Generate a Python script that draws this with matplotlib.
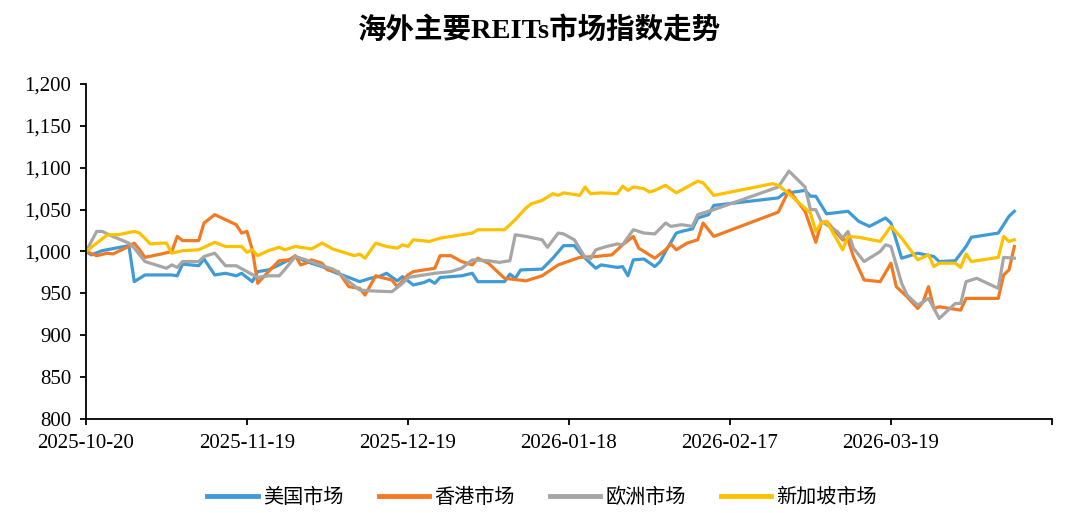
import matplotlib
matplotlib.use("Agg")
import matplotlib.pyplot as plt
import pandas as pd

# ---------------- data ----------------
us_dates = ["2025-10-20", "2025-10-21", "2025-10-23", "2025-10-28", "2025-10-29", "2025-10-31",
            "2025-11-05", "2025-11-06", "2025-11-07", "2025-11-10", "2025-11-11", "2025-11-13",
            "2025-11-15", "2025-11-17", "2025-11-18", "2025-11-20", "2025-11-21", "2025-11-23",
            "2025-11-25", "2025-11-28", "2025-11-30", "2025-12-03", "2025-12-05", "2025-12-08",
            "2025-12-10", "2025-12-12", "2025-12-14", "2025-12-15", "2025-12-17", "2025-12-18",
            "2025-12-20", "2025-12-22", "2025-12-23", "2025-12-24", "2025-12-25", "2025-12-29",
            "2025-12-31", "2026-01-01", "2026-01-06", "2026-01-07", "2026-01-08", "2026-01-09",
            "2026-01-13", "2026-01-15", "2026-01-17", "2026-01-19", "2026-01-21", "2026-01-23",
            "2026-01-24", "2026-01-27", "2026-01-28", "2026-01-29", "2026-01-30", "2026-02-01",
            "2026-02-03", "2026-02-04", "2026-02-05", "2026-02-07", "2026-02-08", "2026-02-10",
            "2026-02-11", "2026-02-13", "2026-02-14", "2026-02-26", "2026-02-27", "2026-03-03",
            "2026-03-04", "2026-03-05", "2026-03-07", "2026-03-11", "2026-03-13", "2026-03-15",
            "2026-03-18", "2026-03-19", "2026-03-21", "2026-03-24", "2026-03-27", "2026-03-28",
            "2026-03-31", "2026-04-02", "2026-04-03", "2026-04-08", "2026-04-10", "2026-04-11"]
us_vals = [1000, 996, 1001, 1007, 964, 972,
           972, 971, 985, 983, 991, 972,
           974, 971, 974, 964, 976, 978,
           984, 994, 988, 982, 976, 969,
           964, 968, 971, 974, 965, 970,
           960, 963, 966, 962, 969, 971,
           974, 964, 964, 973, 968, 978,
           979, 992, 1007, 1007, 992, 980,
           984, 981, 982, 971, 990, 991,
           982, 988, 1000, 1022, 1024, 1027,
           1040, 1044, 1055, 1064, 1069, 1073,
           1066, 1066, 1045, 1048, 1036, 1030,
           1040, 1034, 992, 998, 994, 988,
           989, 1006, 1017, 1022, 1042, 1048]

hk_dates = ["2025-10-20", "2025-10-22", "2025-10-24", "2025-10-25", "2025-10-28", "2025-10-29",
            "2025-10-30", "2025-10-31", "2025-11-03", "2025-11-05", "2025-11-06", "2025-11-07",
            "2025-11-10", "2025-11-11", "2025-11-13", "2025-11-15", "2025-11-17", "2025-11-18",
            "2025-11-19", "2025-11-20", "2025-11-21", "2025-11-23", "2025-11-25", "2025-11-27",
            "2025-11-28", "2025-11-29", "2025-11-30", "2025-12-01", "2025-12-03", "2025-12-04",
            "2025-12-06", "2025-12-08", "2025-12-10", "2025-12-11", "2025-12-13", "2025-12-14",
            "2025-12-16", "2025-12-17", "2025-12-19", "2025-12-20", "2025-12-24", "2025-12-25",
            "2025-12-27", "2025-12-29", "2025-12-31", "2026-01-01", "2026-01-03", "2026-01-06",
            "2026-01-10", "2026-01-13", "2026-01-16", "2026-01-20", "2026-01-23", "2026-01-26",
            "2026-01-28", "2026-01-30", "2026-01-31", "2026-02-03", "2026-02-05", "2026-02-06",
            "2026-02-07", "2026-02-09", "2026-02-11", "2026-02-12", "2026-02-14", "2026-02-26",
            "2026-02-28", "2026-03-03", "2026-03-05", "2026-03-06", "2026-03-07", "2026-03-10",
            "2026-03-11", "2026-03-12", "2026-03-14", "2026-03-17", "2026-03-19", "2026-03-20",
            "2026-03-22", "2026-03-24", "2026-03-25", "2026-03-26", "2026-03-27", "2026-03-28",
            "2026-04-01", "2026-04-02", "2026-04-08", "2026-04-09", "2026-04-10", "2026-04-11"]
hk_vals = [1000, 995, 998, 997, 1006, 1010,
           1002, 993, 997, 1000, 1018, 1013,
           1013, 1034, 1044, 1038, 1032, 1022,
           1024, 1002, 962, 976, 989, 990,
           995, 984, 986, 990, 986, 978,
           976, 958, 956, 948, 971, 969,
           966, 958, 972, 976, 980, 995,
           995, 988, 984, 992, 986, 968,
           965, 971, 984, 993, 994, 996,
           1008, 1018, 1004, 992, 1002, 1009,
           1002, 1010, 1014, 1034, 1018, 1047,
           1073, 1048, 1011, 1034, 1036, 1014,
           1014, 994, 966, 964, 986, 958,
           946, 932, 940, 958, 932, 934,
           930, 944, 944, 972, 978, 1006]

eu_dates = ["2025-10-20", "2025-10-22", "2025-10-23", "2025-10-25", "2025-10-28", "2025-10-29",
            "2025-10-31", "2025-11-03", "2025-11-04", "2025-11-05", "2025-11-06", "2025-11-07",
            "2025-11-10", "2025-11-11", "2025-11-13", "2025-11-15", "2025-11-17", "2025-11-19",
            "2025-11-21", "2025-11-23", "2025-11-25", "2025-11-26", "2025-11-28", "2025-11-30",
            "2025-12-03", "2025-12-05", "2025-12-06", "2025-12-08", "2025-12-10", "2025-12-12",
            "2025-12-16", "2025-12-18", "2025-12-19", "2025-12-21", "2025-12-24", "2025-12-27",
            "2025-12-29", "2025-12-31", "2026-01-03", "2026-01-05", "2026-01-07", "2026-01-08",
            "2026-01-10", "2026-01-13", "2026-01-14", "2026-01-16", "2026-01-17", "2026-01-19",
            "2026-01-21", "2026-01-22", "2026-01-23", "2026-01-25", "2026-01-27", "2026-01-28",
            "2026-01-30", "2026-02-01", "2026-02-03", "2026-02-05", "2026-02-06", "2026-02-08",
            "2026-02-10", "2026-02-11", "2026-02-14", "2026-02-26", "2026-02-28", "2026-03-03",
            "2026-03-04", "2026-03-05", "2026-03-06", "2026-03-09", "2026-03-10", "2026-03-11",
            "2026-03-12", "2026-03-14", "2026-03-17", "2026-03-18", "2026-03-19", "2026-03-21",
            "2026-03-22", "2026-03-24", "2026-03-26", "2026-03-28", "2026-03-31", "2026-04-01",
            "2026-04-02", "2026-04-04", "2026-04-08", "2026-04-09", "2026-04-11"]
eu_vals = [1000, 1024, 1024, 1018, 1010, 1004,
           988, 982, 980, 984, 981, 988,
           988, 994, 998, 983, 983, 976,
           969, 971, 971, 978, 994, 990,
           983, 979, 975, 964, 954, 953,
           952, 962, 969, 971, 974, 976,
           980, 990, 989, 987, 989, 1020,
           1018, 1014, 1005, 1022, 1021, 1014,
           993, 991, 1002, 1006, 1009, 1008,
           1026, 1022, 1021, 1034, 1030, 1032,
           1030, 1044, 1050, 1077, 1096, 1077,
           1050, 1050, 1036, 1024, 1016, 1024,
           1004, 988, 1000, 1008, 1006, 962,
           948, 936, 944, 920, 938, 938,
           964, 968, 956, 993, 992]

sg_dates = ["2025-10-20", "2025-10-22", "2025-10-24", "2025-10-26", "2025-10-29", "2025-10-30",
            "2025-11-01", "2025-11-03", "2025-11-04", "2025-11-05", "2025-11-07", "2025-11-10",
            "2025-11-12", "2025-11-13", "2025-11-15", "2025-11-18", "2025-11-19", "2025-11-20",
            "2025-11-21", "2025-11-23", "2025-11-25", "2025-11-26", "2025-11-28", "2025-12-01",
            "2025-12-03", "2025-12-05", "2025-12-09", "2025-12-10", "2025-12-11", "2025-12-13",
            "2025-12-15", "2025-12-17", "2025-12-18", "2025-12-19", "2025-12-20", "2025-12-23",
            "2025-12-25", "2025-12-27", "2025-12-29", "2025-12-31", "2026-01-01", "2026-01-04",
            "2026-01-06", "2026-01-08", "2026-01-10", "2026-01-11", "2026-01-13", "2026-01-15",
            "2026-01-16", "2026-01-17", "2026-01-20", "2026-01-21", "2026-01-22", "2026-01-24",
            "2026-01-27", "2026-01-28", "2026-01-29", "2026-01-30", "2026-02-01", "2026-02-02",
            "2026-02-03", "2026-02-05", "2026-02-07", "2026-02-11", "2026-02-12", "2026-02-14",
            "2026-02-25", "2026-02-26", "2026-02-28", "2026-03-01", "2026-03-04", "2026-03-05",
            "2026-03-06", "2026-03-07", "2026-03-10", "2026-03-11", "2026-03-13", "2026-03-17",
            "2026-03-19", "2026-03-21", "2026-03-24", "2026-03-26", "2026-03-27", "2026-03-28",
            "2026-03-31", "2026-04-01", "2026-04-02", "2026-04-03", "2026-04-08", "2026-04-09",
            "2026-04-10", "2026-04-11"]
sg_vals = [1000, 1010, 1020, 1020, 1024, 1022,
           1009, 1010, 1010, 998, 1001, 1002,
           1008, 1011, 1006, 1006, 999, 1002,
           995, 1001, 1005, 1002, 1006, 1003,
           1010, 1003, 995, 997, 992, 1010,
           1006, 1004, 1008, 1006, 1014, 1012,
           1016, 1018, 1020, 1022, 1026, 1026,
           1026, 1038, 1052, 1057, 1061, 1069,
           1067, 1070, 1067, 1077, 1069, 1070,
           1069, 1078, 1073, 1077, 1075, 1071,
           1073, 1079, 1070, 1084, 1082, 1067,
           1081, 1079, 1069, 1063, 1046, 1024,
           1034, 1036, 1002, 1018, 1017, 1012,
           1030, 1016, 990, 996, 982, 986,
           986, 981, 997, 988, 993, 1018,
           1012, 1014]

series_names = ["美国市场", "香港市场", "欧洲市场", "新加坡市场"]
series_colors = ["#3F9BD8", "#F27A22", "#A6A6A6", "#FFC000"]
tick_dates = ["2025-10-20", "2025-11-19", "2025-12-19", "2026-01-18",
              "2026-02-17", "2026-03-19", "2026-04-18"]
tick_labels = ["2025-10-20", "2025-11-19", "2025-12-19", "2026-01-18",
               "2026-02-17", "2026-03-19", ""]

# ---------------- figure ----------------
SERIF = ["Liberation Serif", "Noto Sans CJK SC", "DejaVu Sans"]
CJK = ["Noto Sans CJK SC", "DejaVu Sans"]

fig = plt.figure(figsize=(10.8, 5.13), dpi=100)
ax = fig.add_axes([0.0796, 0.1832, 0.8944, 0.6531])

all_series = [(us_dates, us_vals), (hk_dates, hk_vals), (eu_dates, eu_vals), (sg_dates, sg_vals)]
for (d, v), name, col in zip(all_series, series_names, series_colors):
    ax.plot(pd.to_datetime(d), v, color=col, lw=2.3, label=name, solid_joinstyle="round")

ax.set_xlim(pd.Timestamp(tick_dates[0]), pd.Timestamp(tick_dates[-1]))
ax.set_ylim(800, 1200)
ax.set_yticks(range(800, 1201, 50))
ax.set_yticklabels([f"{v:,}" for v in range(800, 1201, 50)])
ax.set_xticks(pd.to_datetime(tick_dates))
ax.set_xticklabels(tick_labels)

for s in ("top", "right"):
    ax.spines[s].set_visible(False)
for s in ("left", "bottom"):
    ax.spines[s].set_linewidth(1.3)
    ax.spines[s].set_color("black")
ax.tick_params(axis="both", direction="out", length=4.5, width=1.3, color="black",
               labelsize=15, pad=6)
for lab in ax.get_xticklabels() + ax.get_yticklabels():
    lab.set_family(SERIF)

fig.text(0.5, 0.942, "海外主要REITs市场指数走势", ha="center", va="center",
         fontsize=20.5, fontweight="bold", family=SERIF)

leg = fig.legend(loc="center", bbox_to_anchor=(0.502, 0.031), ncol=4, frameon=False,
                 prop={"family": CJK, "size": 14.5}, handlelength=2.5,
                 handletextpad=0.25, columnspacing=1.75)
for line in leg.get_lines():
    line.set_linewidth(3.5)

fig.savefig("out.png", dpi=100)
